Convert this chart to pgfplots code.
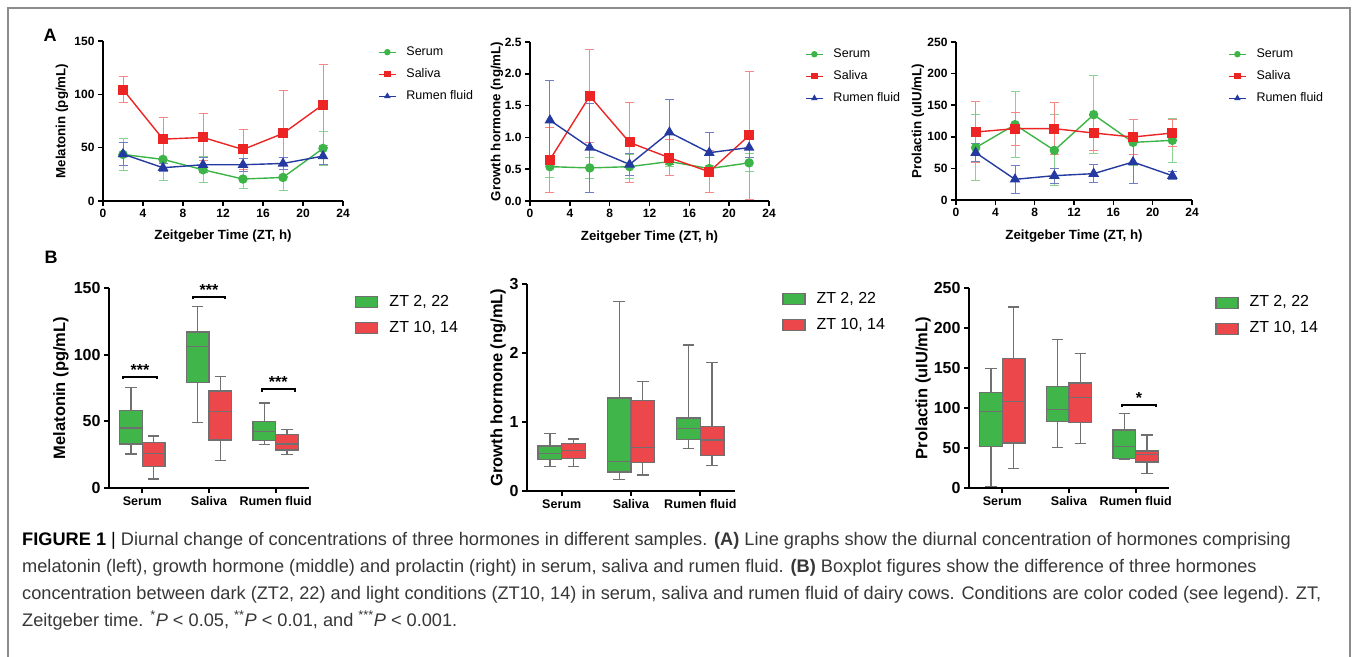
\documentclass[border=0pt]{standalone}
\usepackage{fontspec}
\setmainfont{Liberation Sans}
\usepackage{pgfplots}
\usepackage{pgfplotstable}
\pgfplotsset{compat=1.18}
\usepgfplotslibrary{statistics}

\definecolor{sgreen}{RGB}{60,180,72}
\definecolor{sred}{RGB}{236,36,36}
\definecolor{rblue}{RGB}{36,58,160}
\definecolor{bgreen}{RGB}{64,181,74}
\definecolor{bred}{RGB}{236,72,76}
\definecolor{bgray}{RGB}{112,112,112}
\definecolor{capgray}{RGB}{55,55,55}

% A: melatonin (pg/mL), mean and error
\pgfplotstableread{
x y e
2 43.7 15
6 39.0 20
10 29.3 12
14 20.6 9
18 22.1 12
22 49.3 16
}\melSerum
\pgfplotstableread{
x y e
2 104.5 12
6 58.0 20
10 59.6 22
14 48.3 19
18 63.3 40
22 90.4 38
}\melSaliva
\pgfplotstableread{
x y e
2 44.0 11
6 31.2 4
10 34.0 7
14 34.0 6
18 35.2 6
22 42.1 8
}\melRumen

% A: growth hormone (ng/mL)
\pgfplotstableread{
x y e
2 0.54 0.17
6 0.52 0.17
10 0.54 0.19
14 0.62 0.08
18 0.51 0.05
22 0.60 0.14
}\ghSerum
\pgfplotstableread{
x y e
2 0.65 0.51
6 1.65 0.73
10 0.92 0.63
14 0.68 0.28
18 0.46 0.33
22 1.03 1.00
}\ghSaliva
\pgfplotstableread{
x y e
2 1.27 0.62
6 0.84 0.70
10 0.575 0.17
14 1.08 0.51
18 0.76 0.31
22 0.84 0.15
}\ghRumen

% A: prolactin (uIU/mL)
\pgfplotstableread{
x y e
2 82.8 52
6 119.2 52
10 78.6 56
14 135.0 62
18 91.2 36
22 94.4 35
}\prlSerum
\pgfplotstableread{
x y e
2 107.6 48
6 112.9 26
10 112.9 41
14 106.0 28
18 99.7 27
22 106.0 22
}\prlSaliva
\pgfplotstableread{
x y e
2 74.9 14
6 32.7 22
10 38.5 12
14 41.7 14
18 60.1 34
22 38.5 6
}\prlRumen

\tikzset{
  sig/.style={line width=1.8pt, black},
  stars/.style={anchor=base, font=\bfseries\fontsize{16}{16}\selectfont, yshift=1.5pt},
}

\pgfplotsset{
  prism/.style={
    scale only axis,
    axis lines*=left,
    axis line style={line width=1.8pt},
    tick style={line width=1.6pt, black},
    major tick length=5pt,
    tick align=outside,
    xtick pos=left, ytick pos=left,
    /pgf/number format/assume math mode=true,
    clip=false,
  },
  linepanel/.style={
    prism,
    xmin=0, xmax=24, xtick={0,4,...,24}, ymin=0,
    ticklabel style={font=\bfseries\fontsize{12}{12}\selectfont},
    label style={font=\bfseries\fontsize{13.3}{13.3}\selectfont},
    xlabel={Zeitgeber Time (ZT, h)},
    legend cell align=left,
    legend style={draw=none, fill=none, inner sep=0pt, row sep=10pt,
      font=\fontsize{12.5}{12.5}\selectfont,
      nodes={inner sep=0pt, text height=9pt, text depth=3pt},
      /tikz/every odd column/.append style={column sep=10pt}},
    legend image code/.code={\draw[mark repeat=2, mark phase=2, #1]
      plot coordinates {(0pt,0pt) (8.5pt,0pt) (17pt,0pt)};},
    legend image post style={mark size=2.6pt, line width=1.2pt},
  },
  boxpanel/.style={
    prism,
    axis line style={line width=2.1pt},
    tick style={line width=2pt, black},
    xmin=-0.5, xmax=2.5, xtick={0,1,2},
    xticklabels={Serum,Saliva,Rumen fluid},
    ymin=0,
    boxplot/draw direction=y,
    xticklabel style={font=\bfseries\fontsize{12.5}{12.5}\selectfont},
    yticklabel style={font=\bfseries\fontsize{16}{16}\selectfont},
    label style={font=\bfseries\fontsize{16.5}{16.5}\selectfont},
    legend cell align=left,
    legend style={draw=none, fill=none, inner sep=0pt, row sep=10pt,
      font=\fontsize{16}{16}\selectfont,
      nodes={inner sep=0pt, text height=12pt, text depth=4pt},
      /tikz/every odd column/.append style={column sep=11pt}},
    legend image code/.code={\draw[#1] (0pt,-5.5pt) rectangle (22pt,5.5pt);},
  },
  serum/.style={sgreen, line width=1.4pt, mark=*, mark size=4pt,
    error bars/.cd, y dir=both, y explicit,
    error bar style={sgreen!60, line width=1pt},
    error mark options={rotate=90, sgreen!60, mark size=4.5pt, line width=1pt}},
  saliva/.style={sred, line width=1.4pt, mark=square*, mark size=4.3pt,
    error bars/.cd, y dir=both, y explicit,
    error bar style={sred!55, line width=1pt},
    error mark options={rotate=90, sred!55, mark size=4.5pt, line width=1pt}},
  rumen/.style={rblue, line width=1.4pt, mark=triangle*, mark size=4.8pt,
    error bars/.cd, y dir=both, y explicit,
    error bar style={rblue!65, line width=1pt},
    error mark options={rotate=90, rblue!65, mark size=4.5pt, line width=1pt}},
  gbox/.style={forget plot, fill=bgreen, draw=bgray, line width=1.3pt},
  rbox/.style={forget plot, fill=bred, draw=bgray, line width=1.3pt},
  bx/.style n args={6}{boxplot prepared={draw position=#1, box extend=0.34,
    whisker extend=0.17, lower whisker=#2, lower quartile=#3, median=#4,
    upper quartile=#5, upper whisker=#6}},
}

\begin{document}
\begin{tikzpicture}
\path[use as bounding box] (0,0) rectangle (1357pt,-656pt);
\draw[black!45, line width=1.2pt] (8pt,-660pt) -- (8pt,-8pt) -- (1350pt,-8pt) -- (1350pt,-660pt);

\node[anchor=base west, font=\bfseries\fontsize{18}{18}\selectfont] at (40pt,-41.5pt) {A};
\node[anchor=base west, font=\bfseries\fontsize{18}{18}\selectfont] at (41pt,-263.5pt) {B};

% ---------- A1 melatonin
\begin{axis}[linepanel, at={(103pt,-201pt)}, anchor=south west,
  width=240pt, height=160pt, ymax=150, ytick={0,50,100,150},
  ylabel={Melatonin (pg/mL)},
  xlabel style={at={(axis description cs:0.5,-0.219)}, anchor=center},
  ylabel style={at={(axis description cs:-0.171,0.5)}, anchor=center},
  legend style={at={(axis description cs:1.146,0.969)}, anchor=north west}]
\addplot[serum] table[x=x, y=y, y error=e] {\melSerum};
\addplot[saliva] table[x=x, y=y, y error=e] {\melSaliva};
\addplot[rumen] table[x=x, y=y, y error=e] {\melRumen};
\legend{Serum, Saliva, Rumen fluid}
\end{axis}

% ---------- A2 growth hormone
\begin{axis}[linepanel, at={(530pt,-201pt)}, anchor=south west,
  width=239pt, height=159pt, ymax=2.5, ytick={0,0.5,1,1.5,2,2.5},
  yticklabel style={/pgf/number format/.cd, fixed, fixed zerofill, precision=1},
  ylabel={Growth hormone (ng/mL)},
  xlabel style={at={(axis description cs:0.5,-0.226)}, anchor=center},
  ylabel style={at={(axis description cs:-0.138,0.5)}, anchor=center},
  legend style={at={(axis description cs:1.151,0.962)}, anchor=north west}]
\addplot[serum] table[x=x, y=y, y error=e] {\ghSerum};
\addplot[saliva] table[x=x, y=y, y error=e] {\ghSaliva};
\addplot[rumen] table[x=x, y=y, y error=e] {\ghRumen};
\legend{Serum, Saliva, Rumen fluid}
\end{axis}

% ---------- A3 prolactin
\begin{axis}[linepanel, at={(956pt,-200pt)}, anchor=south west,
  width=236pt, height=158pt, ymax=250, ytick={0,50,...,250},
  ylabel={Prolactin (uIU/mL)},
  xlabel style={at={(axis description cs:0.5,-0.228)}, anchor=center},
  ylabel style={at={(axis description cs:-0.161,0.5)}, anchor=center},
  legend style={at={(axis description cs:1.153,0.962)}, anchor=north west}]
\addplot[serum] table[x=x, y=y, y error=e] {\prlSerum};
\addplot[saliva] table[x=x, y=y, y error=e] {\prlSaliva};
\addplot[rumen] table[x=x, y=y, y error=e] {\prlRumen};
\legend{Serum, Saliva, Rumen fluid}
\end{axis}

% ---------- B1 melatonin
\begin{axis}[boxpanel, at={(109pt,-488pt)}, anchor=south west,
  width=200pt, height=200pt, ymax=150, ytick={0,50,100,150},
  ylabel={Melatonin (pg/mL)},
  ylabel style={at={(axis description cs:-0.24,0.5)}, anchor=center},
  legend style={at={(axis description cs:1.23,0.97)}, anchor=north west}]
\addlegendimage{fill=bgreen, draw=bgray, line width=1.3pt}
\addlegendentry{ZT 2, 22}
\addlegendimage{fill=bred, draw=bgray, line width=1.3pt}
\addlegendentry{ZT 10, 14}
\addplot[gbox, bx={-0.17}{25.6}{32.9}{45.1}{57.9}{75.5}] coordinates {};
\addplot[rbox, bx={0.17}{6.8}{16.1}{25.8}{33.9}{39.1}] coordinates {};
\addplot[gbox, bx={0.83}{49.2}{79.3}{106.1}{116.9}{136.2}] coordinates {};
\addplot[rbox, bx={1.17}{20.6}{36.1}{57.4}{72.7}{83.5}] coordinates {};
\addplot[gbox, bx={1.83}{32.4}{35.4}{42.4}{49.9}{63.7}] coordinates {};
\addplot[rbox, bx={2.17}{25.3}{28.6}{33.1}{40.1}{44.1}] coordinates {};
\draw[sig] (axis cs:-0.29,81.8) -- (axis cs:-0.29,83.5) -- (axis cs:0.22,83.5) -- (axis cs:0.22,81.8);
\draw[sig] (axis cs:0.76,141.5) -- (axis cs:0.76,143.2) -- (axis cs:1.245,143.2) -- (axis cs:1.245,141.5);
\draw[sig] (axis cs:1.795,72.3) -- (axis cs:1.795,74) -- (axis cs:2.285,74) -- (axis cs:2.285,72.3);
\node[stars] at (axis cs:-0.035,83.5) {***};
\node[stars] at (axis cs:1.0,143.2) {***};
\node[stars] at (axis cs:2.04,74) {***};
\end{axis}

% ---------- B2 growth hormone
\begin{axis}[boxpanel, at={(527pt,-491pt)}, anchor=south west,
  width=208pt, height=207pt, ymax=3, ytick={0,1,2,3},
  ylabel={Growth hormone (ng/mL)},
  ylabel style={at={(axis description cs:-0.139,0.5)}, anchor=center},
  legend style={at={(axis description cs:1.226,0.966)}, anchor=north west}]
\addlegendimage{fill=bgreen, draw=bgray, line width=1.3pt}
\addlegendentry{ZT 2, 22}
\addlegendimage{fill=bred, draw=bgray, line width=1.3pt}
\addlegendentry{ZT 10, 14}
\addplot[gbox, bx={-0.17}{0.353}{0.46}{0.542}{0.653}{0.837}] coordinates {};
\addplot[rbox, bx={0.17}{0.353}{0.469}{0.585}{0.687}{0.755}] coordinates {};
\addplot[gbox, bx={0.83}{0.169}{0.276}{0.43}{1.35}{2.743}] coordinates {};
\addplot[rbox, bx={1.17}{0.232}{0.416}{0.629}{1.316}{1.587}] coordinates {};
\addplot[gbox, bx={1.83}{0.619}{0.745}{0.905}{1.06}{2.114}] coordinates {};
\addplot[rbox, bx={2.17}{0.373}{0.513}{0.74}{0.934}{1.863}] coordinates {};
\end{axis}

% ---------- B3 prolactin
\begin{axis}[boxpanel, at={(969pt,-488pt)}, anchor=south west,
  width=200pt, height=200pt, ymax=250, ytick={0,50,...,250},
  ylabel={Prolactin (uIU/mL)},
  ylabel style={at={(axis description cs:-0.23,0.5)}, anchor=center},
  legend style={at={(axis description cs:1.23,0.9675)}, anchor=north west}]
\addlegendimage{fill=bgreen, draw=bgray, line width=1.3pt}
\addlegendentry{ZT 2, 22}
\addlegendimage{fill=bred, draw=bgray, line width=1.3pt}
\addlegendentry{ZT 10, 14}
\addplot[gbox, bx={-0.17}{2}{52.1}{95.4}{119.6}{149.2}] coordinates {};
\addplot[rbox, bx={0.17}{24.6}{56.3}{108.3}{162.1}{226.3}] coordinates {};
\addplot[gbox, bx={0.83}{50.8}{82.9}{97.9}{126.7}{185.8}] coordinates {};
\addplot[rbox, bx={1.17}{55.8}{81.7}{113.3}{131.2}{168.3}] coordinates {};
\addplot[gbox, bx={1.83}{35.4}{37.1}{52.1}{72.5}{93.3}] coordinates {};
\addplot[rbox, bx={2.17}{17.9}{32.5}{41.7}{46.3}{66.3}] coordinates {};
\draw[sig] (axis cs:1.8,101.4) -- (axis cs:1.8,104.2) -- (axis cs:2.3,104.2) -- (axis cs:2.3,101.4);
\node[stars] at (axis cs:2.05,104.2) {*};
\end{axis}

% ---------- caption (anchor is the baseline of the last line)
\node[anchor=base west, inner sep=0pt, align=left, text=capgray, font=\fontsize{18.2}{27}\selectfont]
  at (22pt,-626pt) {\textbf{\color{black}FIGURE 1} {\color{black}|} Diurnal change of concentrations of three hormones in different samples. \textbf{(A)} Line graphs show the diurnal concentration of hormones comprising\\
melatonin (left), growth hormone (middle) and prolactin (right) in serum, saliva and rumen fluid. \textbf{(B)} Boxplot figures show the difference of three hormones\\
concentration between dark (ZT2, 22) and light conditions (ZT10, 14) in serum, saliva and rumen fluid of dairy cows. Conditions are color coded (see legend). ZT,\\
Zeitgeber time. \textsuperscript{*}\textit{P} < 0.05, \textsuperscript{**}\textit{P} < 0.01, and \textsuperscript{***}\textit{P} < 0.001.};
\end{tikzpicture}
\end{document}
